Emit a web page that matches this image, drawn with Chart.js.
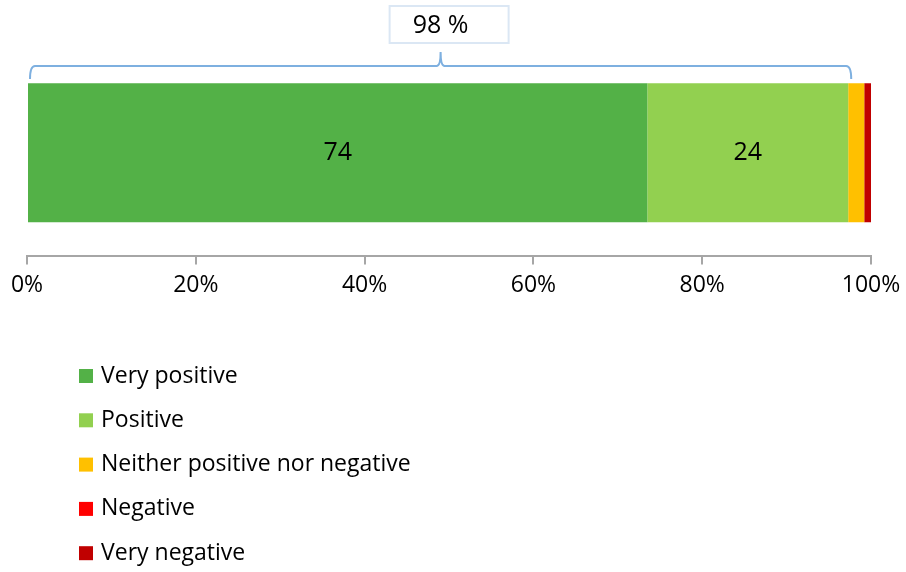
<!DOCTYPE html>
<html lang="en">
<head>
    <meta charset="UTF-8">
    <title>Rating</title>
    <script src="https://cdn.jsdelivr.net/npm/chart.js@4"></script>
    <style>
        html, body { margin: 0; padding: 0; background: #fff; }
        #wrap { width: 906px; height: 572px; }
    </style>
</head>
<body>
    <div id="wrap"><canvas id="myChart" width="906" height="572"></canvas></div>
    <script>
        // datos del gráfico
        const categories = ['All'];
        const seriesNames = ['Very positive', 'Positive', 'Neither positive nor negative', 'Negative', 'Very negative'];
        const seriesValues = [[73.5], [23.8], [1.9], [0], [0.8]];
        const seriesColors = ['#53b147', '#92d050', '#ffc000', '#ff0000', '#c00000'];
        const tickLabels = [0, 20, 40, 60, 80, 100];

        const FONT = '"Open Sans", "Noto Sans", sans-serif';

        // etiquetas dentro de las barras
        const barLabels = {
            id: 'barLabels',
            afterDatasetsDraw(chart) {
                const ctx = chart.ctx;
                ctx.save();
                ctx.font = '25px ' + FONT;
                ctx.fillStyle = '#000';
                ctx.textAlign = 'center';
                ctx.textBaseline = 'middle';
                chart.data.datasets.forEach((ds, i) => {
                    const meta = chart.getDatasetMeta(i);
                    meta.data.forEach((bar, j) => {
                        const v = ds.data[j];
                        if (v < 5) return;
                        const cx = (bar.x + bar.base) / 2;
                        ctx.fillText(Math.round(v), cx, bar.y);
                    });
                });
                ctx.restore();
            }
        };

        // llave con el total de positivos
        const brace = {
            id: 'brace',
            afterDraw(chart) {
                const ctx = chart.ctx;
                const x = chart.scales.x;
                const total = seriesValues[0][0] + seriesValues[1][0];
                const x0 = x.getPixelForValue(0) + 3;
                const x1 = x.getPixelForValue(total) + 3;
                const mid = (x0 + x1) / 2;
                const yLine = 66, yEnd = 79, yPeak = 52;
                ctx.save();
                ctx.strokeStyle = '#7eb0e0';
                ctx.lineWidth = 2;
                ctx.beginPath();
                ctx.moveTo(x0, yEnd);
                ctx.quadraticCurveTo(x0, yLine, x0 + 5, yLine);
                ctx.lineTo(mid - 4, yLine);
                ctx.quadraticCurveTo(mid, yLine, mid, yPeak);
                ctx.quadraticCurveTo(mid, yLine, mid + 4, yLine);
                ctx.lineTo(x1 - 5, yLine);
                ctx.quadraticCurveTo(x1, yLine, x1, yEnd);
                ctx.stroke();

                // caja de la etiqueta
                const w = 119, h = 37;
                const bx = mid - 51;
                ctx.fillStyle = '#fff';
                ctx.fillRect(bx, 6, w, h);
                ctx.strokeStyle = '#dbe7f4';
                ctx.lineWidth = 2;
                ctx.strokeRect(bx, 6, w, h);
                ctx.fillStyle = '#000';
                ctx.font = '25px ' + FONT;
                ctx.textAlign = 'center';
                ctx.textBaseline = 'middle';
                const lbl = Math.round(seriesValues[0][0]) + Math.round(seriesValues[1][0]);
                ctx.fillText(lbl + ' %', mid, 26);
                ctx.restore();
            }
        };

        // leyenda vertical
        const sideLegend = {
            id: 'sideLegend',
            afterDraw(chart) {
                const ctx = chart.ctx;
                ctx.save();
                ctx.font = '23px ' + FONT;
                ctx.textBaseline = 'middle';
                chart.data.datasets.forEach((ds, i) => {
                    const y = 376 + i * 44.3;
                    ctx.fillStyle = ds.backgroundColor;
                    ctx.fillRect(79, y - 7, 14, 14);
                    ctx.fillStyle = '#000';
                    ctx.fillText(ds.label, 101, y);
                });
                ctx.restore();
            }
        };

        const datasets = seriesNames.map((name, i) => ({
            label: name,
            data: seriesValues[i],
            backgroundColor: seriesColors[i],
            borderWidth: 0,
            categoryPercentage: 1,
            barPercentage: 0.67
        }));

        new Chart(document.getElementById('myChart'), {
            type: 'bar',
            data: { labels: categories, datasets: datasets },
            options: {
                indexAxis: 'y',
                responsive: false,
                animation: false,
                layout: { padding: { top: 49, left: 27, right: 35, bottom: 266 } },
                plugins: { legend: { display: false }, tooltip: { enabled: false } },
                scales: {
                    y: { stacked: true, display: false },
                    x: {
                        stacked: true,
                        min: 0,
                        max: 100,
                        afterBuildTicks(scale) {
                            scale.ticks = tickLabels.map(v => ({ value: v }));
                        },
                        afterFit(scale) {
                            // que el padding del layout decida los bordes
                            scale.paddingLeft = 0;
                            scale.paddingRight = 0;
                        },
                        border: { display: true, color: '#a6a6a6', width: 2 },
                        grid: { drawOnChartArea: false, drawTicks: true, tickLength: 8, color: '#a6a6a6', lineWidth: 2 },
                        ticks: {
                            padding: 7,
                            color: '#000',
                            font: { family: FONT, size: 23 },
                            maxRotation: 0,
                            callback: v => v + '%'
                        }
                    }
                }
            },
            plugins: [barLabels, brace, sideLegend]
        });
    </script>
</body>
</html>
